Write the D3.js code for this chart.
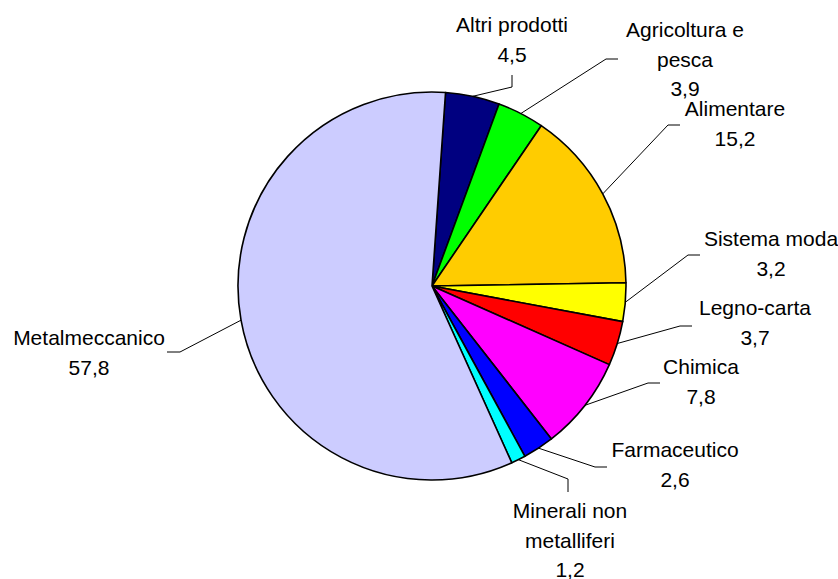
<!DOCTYPE html>
<html><head><meta charset="utf-8">
<script src="https://cdn.jsdelivr.net/npm/d3@7/dist/d3.min.js"></script>
<style>body{margin:0;background:#fff}svg{display:block}</style>
</head><body>
<svg id="chart" width="838" height="579"></svg>
<script>
// Data (clockwise from top)
const categories = ["Altri prodotti","Agricoltura e pesca","Alimentare","Sistema moda","Legno-carta","Chimica","Farmaceutico","Minerali non metalliferi","Metalmeccanico"];
const values = [4.5, 3.9, 15.2, 3.2, 3.7, 7.8, 2.6, 1.2, 57.8];
const valueLabels = ["4,5","3,9","15,2","3,2","3,7","7,8","2,6","1,2","57,8"];
const labelLines = [["Altri prodotti"],["Agricoltura e","pesca"],["Alimentare"],["Sistema moda"],["Legno-carta"],["Chimica"],["Farmaceutico"],["Minerali non","metalliferi"],["Metalmeccanico"]];
const colors = ["#000080","#00ff00","#ffcc00","#ffff00","#ff0000","#ff00ff","#0000ff","#00ffff","#ccccff"];

// Layout (label anchor / first baseline, leader elbow, leader end)
const layout = [
  {lx:512, ly:32,  ex:512, ey:87,  tx:512, ty:75},
  {lx:685, ly:37,  ex:606, ey:59,  tx:618, ty:59},
  {lx:735, ly:116, ex:668, ey:125, tx:680, ty:125},
  {lx:771, ly:246, ex:688, ey:255, tx:700, ty:255},
  {lx:755, ly:315, ex:680, ey:326, tx:692, ty:326},
  {lx:701, ly:374, ex:648, ey:383, tx:660, ty:383},
  {lx:675, ly:457, ex:595, ey:467, tx:607, ty:467},
  {lx:570, ly:518, ex:568, ey:479, tx:568, ty:492},
  {lx:89,  ly:345, ex:180, ey:352, tx:167, ty:352}
];

const cx = 432, cy = 286, R = 194;
const startDeg = 4;
const svg = d3.select("#chart");
const g = svg.append("g").attr("transform", `translate(${cx},${cy})`);

const data = categories.map((c,i)=>({cat:c, v:values[i], i}));
const pie = d3.pie().sort(null).value(d=>d.v)
  .startAngle(startDeg*Math.PI/180).endAngle(startDeg*Math.PI/180 + 2*Math.PI);
const arcs = pie(data);
const arc = d3.arc().innerRadius(0).outerRadius(R);

g.selectAll("path.slice").data(arcs).enter().append("path")
  .attr("class","slice")
  .attr("d", arc)
  .attr("fill", d=>colors[d.data.i])
  .attr("stroke","#000").attr("stroke-width",1.6).attr("stroke-linejoin","round");

// leader lines
arcs.forEach(a=>{
  const m = (a.startAngle + a.endAngle)/2;
  const x0 = cx + R*Math.sin(m), y0 = cy - R*Math.cos(m);
  const L = layout[a.data.i];
  svg.append("polyline")
    .attr("points", `${x0},${y0} ${L.ex},${L.ey} ${L.tx},${L.ty}`)
    .attr("fill","none").attr("stroke","#000").attr("stroke-width",1);
});

// labels
const lineH = 29.5;
arcs.forEach(a=>{
  const i = a.data.i, L = layout[i];
  const lines = labelLines[i].concat([valueLabels[i]]);
  const t = svg.append("text")
    .attr("text-anchor","middle")
    .attr("font-family","'Liberation Sans', Arial, sans-serif")
    .attr("font-size",21).attr("fill","#000");
  lines.forEach((s,k)=>{
    t.append("tspan").attr("x",L.lx).attr("y",L.ly + k*lineH).text(s);
  });
});
</script>
</body></html>
